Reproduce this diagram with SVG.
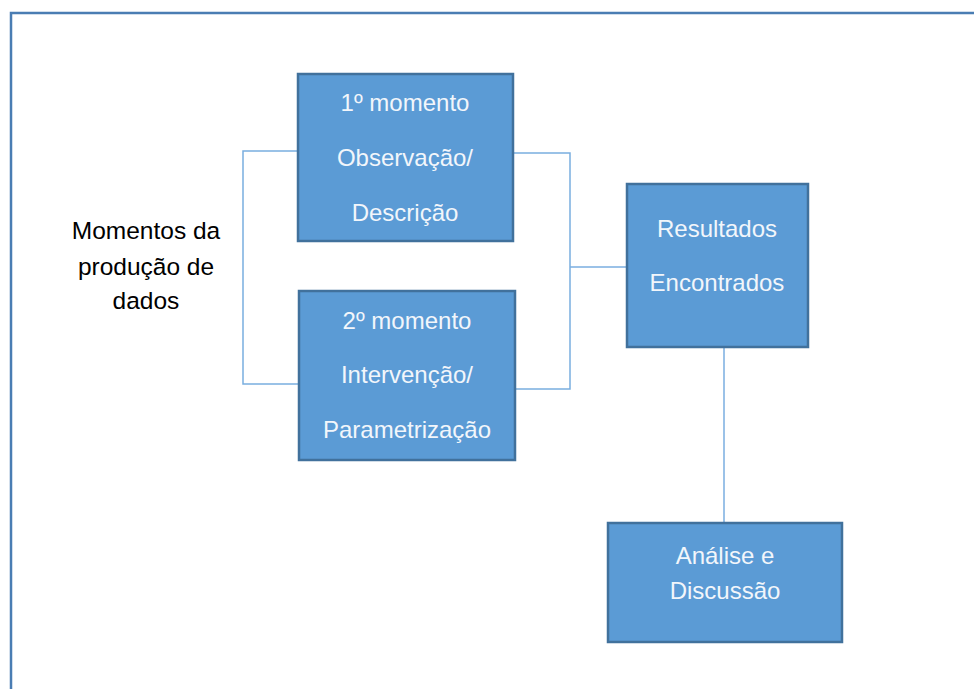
<svg xmlns="http://www.w3.org/2000/svg" width="974" height="689" viewBox="0 0 974 689">
<style>
.box{fill:#5b9bd5;stroke:#41719c;stroke-width:2.5}
.t{font-family:"Liberation Sans",Arial,sans-serif;font-size:24px;fill:#f2f6fb;text-anchor:middle}
.lbl{font-family:"Liberation Sans",Arial,sans-serif;font-size:24.5px;fill:#000;text-anchor:middle}
.c{fill:none;stroke:#7aaee0;stroke-width:1.5}
</style>
<rect x="11" y="13" width="980" height="700" fill="#fff" stroke="#4a7db3" stroke-width="2.5"/>
<g id="connectors">
<polyline class="c" points="298,151 243,151 243,384 299,384"/>
<polyline class="c" points="513,153 570,153 570,389 515,389"/>
<line class="c" x1="570" y1="267" x2="627" y2="267"/>
<line class="c" x1="724" y1="347" x2="724" y2="523"/>
</g>
<g id="label">
<text class="lbl" x="146" y="239">Momentos da</text>
<text class="lbl" x="146" y="275">produção de</text>
<text class="lbl" x="146" y="309">dados</text>
</g>
<g id="n1">
<rect class="box" x="298" y="74" width="215" height="167"/>
<text class="t" x="405" y="111">1º momento</text>
<text class="t" x="405" y="166">Observação/</text>
<text class="t" x="405" y="221">Descrição</text>
</g>
<g id="n2">
<rect class="box" x="299" y="291" width="216" height="169"/>
<text class="t" x="407" y="329">2º momento</text>
<text class="t" x="407" y="383">Intervenção/</text>
<text class="t" x="407" y="438">Parametrização</text>
</g>
<g id="n3">
<rect class="box" x="627" y="184" width="181" height="163"/>
<text class="t" x="717" y="237">Resultados</text>
<text class="t" x="717" y="291">Encontrados</text>
</g>
<g id="n4">
<rect class="box" x="608" y="523" width="234" height="119"/>
<text class="t" x="725" y="564">Análise e</text>
<text class="t" x="725" y="599">Discussão</text>
</g>
</svg>
